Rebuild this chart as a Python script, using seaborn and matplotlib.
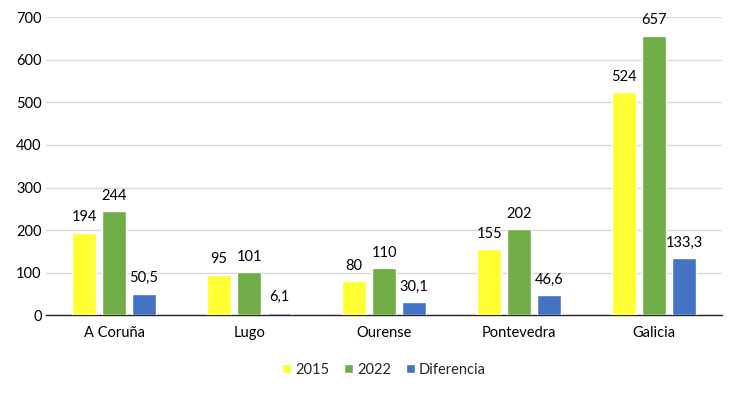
import matplotlib.pyplot as plt
import pandas as pd
import seaborn as sns

categories = ["A Coruña", "Lugo", "Ourense", "Pontevedra", "Galicia"]
series = ["2015", "2022", "Diferencia"]
values_2015 = [194, 95, 80, 155, 524]
values_2022 = [244, 101, 110, 202, 657]
values_diff = [50.5, 6.1, 30.1, 46.6, 133.3]
colors = ["#FFFF33", "#70AD47", "#4472C4"]

df = pd.DataFrame({
    "provincia": categories * 3,
    "serie": [s for s in series for _ in categories],
    "valor": values_2015 + values_2022 + values_diff,
})

sns.set_style("white")
plt.rcParams["font.family"] = ["Lato", "DejaVu Sans"]

fig = plt.figure(figsize=(7.38, 3.93), dpi=100)
ax = fig.add_axes([0.063, 0.198, 0.915, 0.758])

sns.barplot(data=df, x="provincia", y="valor", hue="serie", palette=colors,
            width=0.667, gap=0.2, saturation=1, ax=ax, zorder=3)

for container in ax.containers:
    labels = [f"{v:g}".replace(".", ",") for v in container.datavalues]
    ax.bar_label(container, labels=labels, padding=6, fontsize=10.5, color="#000000")

ax.set_ylim(0, 700)
ax.set_yticks(range(0, 701, 100))
ax.set_xlim(-0.5, 4.5)
ax.yaxis.grid(True, color="#D9D9D9", linewidth=1, zorder=0)
ax.set_axisbelow(True)
ax.set_xlabel("")
ax.set_ylabel("")
ax.tick_params(axis="both", labelsize=10.5, length=0, colors="#000000")
ax.tick_params(axis="x", pad=8)
for side in ["top", "right", "left"]:
    ax.spines[side].set_visible(False)
ax.spines["bottom"].set_color("#262626")
ax.spines["bottom"].set_linewidth(1)

ax.legend(loc="upper center", bbox_to_anchor=(0.5, -0.115), ncol=3, frameon=False,
          fontsize=10.5, handlelength=0.6, handleheight=0.6, handletextpad=0.3,
          columnspacing=1.0)

fig.savefig("out.png", dpi=100)
